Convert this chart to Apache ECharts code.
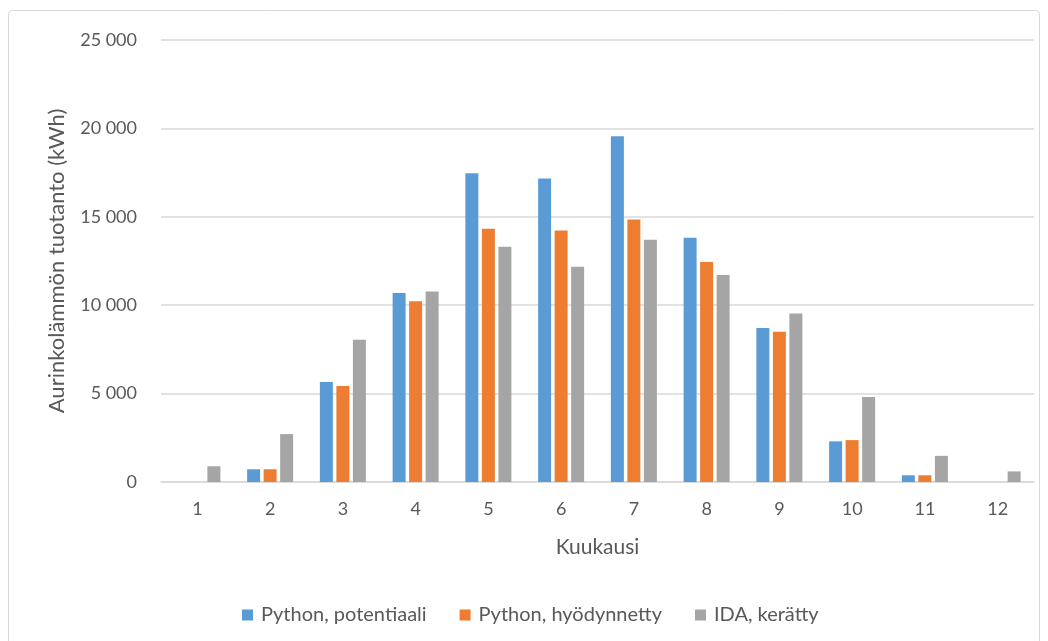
<!DOCTYPE html>
<html>
<head>
<meta charset="utf-8">
<script src="https://cdn.jsdelivr.net/npm/echarts@6/dist/echarts.min.js"></script>
<style>
  html, body { margin: 0; padding: 0; background: #fff; }
  #chart { width: 1048px; height: 641px; }
</style>
</head>
<body>
<div id="chart"></div>
<script>
// Months 1..12
const months = ['1', '2', '3', '4', '5', '6', '7', '8', '9', '10', '11', '12'];

// Monthly solar heat production (kWh)
const pythonPotential = [0, 720, 5660, 10690, 17460, 17160, 19560, 13810, 8710, 2300, 380, 0];
const pythonUtilised  = [0, 720, 5430, 10220, 14320, 14230, 14850, 12450, 8500, 2370, 380, 0];
const idaCollected    = [890, 2710, 8040, 10770, 13300, 12180, 13700, 11710, 9530, 4810, 1480, 600];

const seriesNames = ['Python, potentiaali', 'Python, hyödynnetty', 'IDA, kerätty'];
const colors = ['#5B9BD5', '#ED7D31', '#A5A5A5'];

const FONT = 'Lato, "Open Sans", sans-serif';
const TEXT = '#595959';

// thousands separated by a space, e.g. 25 000
const fmt = v => {
  const s = String(v);
  return s.length > 3 ? s.slice(0, s.length - 3) + ' ' + s.slice(-3) : s;
};

const chart = echarts.init(document.getElementById('chart'));
chart.setOption({
  backgroundColor: '#fff',
  animation: false,
  textStyle: { fontFamily: FONT },
  color: colors,
  graphic: [{
    type: 'rect',
    shape: { x: 8.5, y: 10.5, width: 1031, height: 650, r: 3 },
    style: { fill: 'none', stroke: '#D9D9D9', lineWidth: 1 },
    silent: true
  }],
  grid: { left: 161, right: 14, top: 40, bottom: 159, containLabel: false },
  legend: {
    bottom: 11,
    left: 237,
    itemWidth: 11,
    itemHeight: 11,
    itemGap: 33,
    icon: 'rect',
    textStyle: { fontFamily: FONT, fontSize: 20, color: TEXT, padding: [0, 0, 0, 3] },
    data: seriesNames
  },
  xAxis: {
    type: 'category',
    data: months,
    name: 'Kuukausi',
    nameLocation: 'middle',
    nameGap: 55,
    nameTextStyle: { fontFamily: FONT, fontSize: 21, color: TEXT },
    axisLine: { lineStyle: { color: '#D9D9D9', width: 1.5 } },
    axisTick: { show: false },
    axisLabel: { fontFamily: FONT, fontSize: 18, color: TEXT, margin: 18 }
  },
  yAxis: {
    type: 'value',
    min: 0,
    max: 25000,
    interval: 5000,
    name: 'Aurinkolämmön tuotanto (kWh)',
    nameLocation: 'middle',
    nameGap: 93,
    nameTextStyle: { fontFamily: FONT, fontSize: 22, color: TEXT },
    axisLine: { show: false },
    axisTick: { show: false },
    splitLine: { lineStyle: { color: '#D9D9D9', width: 1.5 } },
    axisLabel: { fontFamily: FONT, fontSize: 18, color: TEXT, margin: 24, formatter: fmt }
  },
  series: [
    { name: seriesNames[0], type: 'bar', data: pythonPotential, barWidth: 13, barGap: '27%' },
    { name: seriesNames[1], type: 'bar', data: pythonUtilised, barWidth: 13, barGap: '27%' },
    { name: seriesNames[2], type: 'bar', data: idaCollected, barWidth: 13, barGap: '27%' }
  ]
});
</script>
</body>
</html>
